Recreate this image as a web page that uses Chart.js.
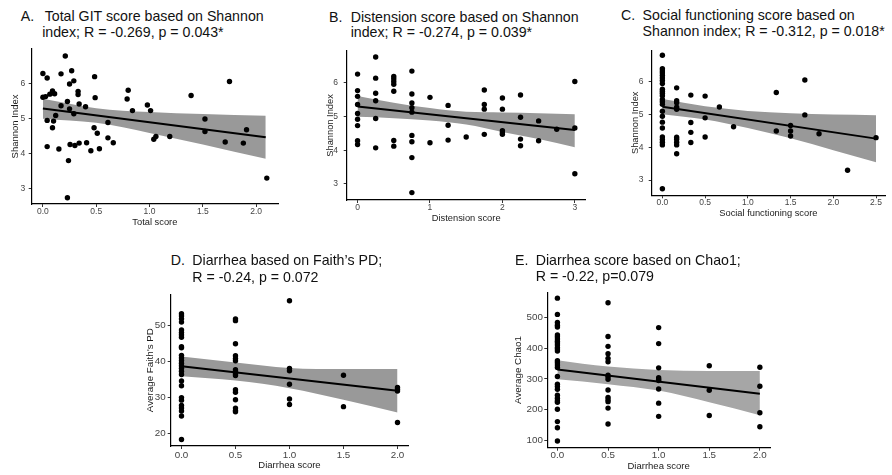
<!DOCTYPE html>
<html><head><meta charset="utf-8">
<script src="https://cdn.jsdelivr.net/npm/chart.js@4.4.1/dist/chart.umd.min.js"></script>
<style>
html,body{margin:0;padding:0;background:#fff;}
#wrap{position:relative;width:892px;height:475px;overflow:hidden;background:#fff;}
canvas{position:absolute;}
.t{position:absolute;font-family:"Liberation Sans",Arial,sans-serif;font-size:14.2px;line-height:16px;color:#111;white-space:nowrap;}
</style></head><body><div id="wrap"></div>
<script>
// ---------- Panel A: Total GIT score vs Shannon index ----------
const aX = [0.00,0.00,0.025,0.04,0.04,0.04,0.065,0.09,0.09,0.11,0.09,0.10,0.12,0.15,0.17,0.17,0.21,0.23,0.24,0.23,0.25,0.25,0.255,0.27,0.29,0.29,0.30,0.33,0.33,0.34,0.34,0.40,0.41,0.45,0.48,0.485,0.49,0.51,0.53,0.61,0.61,0.66,0.80,0.79,0.84,0.98,1.01,1.04,1.06,1.19,1.39,1.52,1.52,1.71,1.75,1.88,1.91,2.10];
const aY = [6.28,5.60,5.62,6.15,4.94,4.19,5.69,5.78,5.73,5.70,4.73,4.92,5.08,4.12,6.27,5.36,6.78,5.48,3.79,2.73,5.98,5.27,4.25,6.36,6.07,5.13,4.22,5.77,5.68,5.41,4.29,5.33,4.30,4.07,4.73,6.19,5.59,4.57,4.13,4.88,4.44,4.30,5.80,5.55,5.22,5.38,5.22,4.40,4.48,4.48,5.65,4.98,4.62,4.32,6.05,4.29,4.67,3.29];
const aFitX = [0, 2.09];
const aFitY = [5.28, 4.46];
const aBandX = [0, 0.5, 1.0, 1.5, 2.09];
const aBandUp = [5.56, 5.29, 5.18, 5.12, 5.07];
const aBandLo = [4.99, 4.87, 4.58, 4.25, 3.84];
const aXTicks = [0, 0.5, 1, 1.5, 2];
const aXLabels = ["0.0","0.5","1.0","1.5","2.0"];
const aYTicks = [3, 4, 5, 6];

// ---------- Panel B: Distension score ----------
const bGroupX = [0, 0.25, 0.5, 0.75, 1, 1.25, 1.5, 1.75, 2, 2.25, 2.5, 2.75, 3];
const bGroupY = [
  [6.26,5.77,5.60,5.36,5.09,4.92,4.73,4.28,4.17],
  [6.77,6.14,5.69,5.47,4.94,4.07],
  [6.19,6.12,6.04,5.96,5.75,4.29,4.12],
  [6.35,5.67,5.40,5.26,5.13,4.44,4.25,3.78,2.74],
  [5.57,4.22],
  [5.33,4.74,4.30],
  [4.39],
  [5.79,5.36,5.22,4.47],
  [5.55,5.22,4.58,4.52,4.47],
  [5.64,4.98,4.33,4.13],
  [4.87,4.28],
  [4.62],
  [6.04,4.66,3.30]
];
const bFitX = [0, 3];
const bFitY = [5.30, 4.60];
const bBandX = [0, 0.5, 1, 1.5, 2, 2.5, 3];
const bBandUp = [5.61, 5.41, 5.25, 5.14, 5.12, 5.10, 5.07];
const bBandLo = [4.99, 4.95, 4.88, 4.76, 4.54, 4.33, 4.09];
const bXTicks = [0, 1, 2, 3];
const bXLabels = ["0","1","2","3"];
const bYTicks = [3, 4, 5, 6];

// ---------- Panel C: Social functioning score ----------
const cGroupX = [0, 0.167, 0.333, 0.5, 0.667, 0.833, 1.333, 1.5, 1.667, 1.833, 2.167, 2.5];
const cGroupY = [
  [6.79,6.38,6.31,6.25,6.18,6.10,6.02,5.93,5.76,5.70,5.64,5.56,5.45,5.38,5.30,5.09,4.94,4.76,4.58,4.31,4.23,4.15,4.07,2.74],
  [5.80,5.41,5.35,5.21,5.15,4.30,4.24,4.15,4.07,3.80],
  [5.58,4.75,4.45,4.14],
  [5.55,4.89,4.31],
  [5.22],
  [4.62],
  [5.66,4.49],
  [4.66,4.49,4.34],
  [6.04,4.98],
  [4.41],
  [3.30],
  [4.29]
];
const cFitX = [0, 2.5];
const cFitY = [5.23, 4.26];
const cBandX = [0, 0.5, 1, 1.5, 2, 2.5];
const cBandUp = [5.46, 5.24, 5.10, 5.03, 4.99, 4.97];
const cBandLo = [5.00, 4.84, 4.58, 4.27, 3.91, 3.54];
const cXTicks = [0, 0.5, 1, 1.5, 2, 2.5];
const cXLabels = ["0.0","0.5","1.0","1.5","2.0","2.5"];
const cYTicks = [3, 4, 5, 6];

// ---------- Panel D: Diarrhea vs Faith's PD ----------
const dGroupX = [0, 0.5, 1, 1.5, 2];
const dGroupY = [
  [53.2,52.6,51.8,50.9,48.7,48.0,47.4,46.7,44.1,43.8,41.7,41.0,40.3,39.5,38.8,38.1,37.3,36.4,34.6,33.3,30.0,29.3,27.8,27.1,26.3,24.9,18.4],
  [51.8,51.3,44.9,41.6,40.8,40.2,37.7,37.2,36.6,36.1,32.2,31.5,29.4,27.1,26.4,26.1],
  [56.8,38.1,37.4,33.7,29.6,28.1],
  [36.2,27.5],
  [32.8,32.3,31.8,23.1]
];
const dFitX = [0, 2];
const dFitY = [38.7, 31.9];
const dBandX = [0, 0.5, 1, 1.5, 2];
const dBandUp = [41.4, 39.7, 38.2, 37.9, 37.9];
const dBandLo = [35.9, 34.7, 32.6, 29.4, 25.9];
const dXTicks = [0, 0.5, 1, 1.5, 2];
const dXLabels = ["0.0","0.5","1.0","1.5","2.0"];
const dYTicks = [20, 30, 40, 50];

// ---------- Panel E: Diarrhea vs Chao1 ----------
const eGroupX = [0, 0.5, 1, 1.5, 2];
const eGroupY = [
  [563,510,484,475,469,443,437,430,423,417,410,402,397,391,359,353,345,337,308,283,275,266,247,237,229,224,201,161,141,98],
  [548,438,406,382,367,356,312,307,299,264,240,232,226,205,153],
  [467,415,336,304,298,295,267,221,178],
  [343,263,181],
  [338,276,190,144]
];
const eFitX = [0, 2];
const eFitY = [331, 252];
const eBandX = [0, 0.5, 1, 1.5, 2];
const eBandUp = [361, 340, 329, 326, 326];
const eBandLo = [299, 283, 262, 224, 182];
const eXTicks = [0, 0.5, 1, 1.5, 2];
const eXLabels = ["0.0","0.5","1.0","1.5","2.0"];
const eYTicks = [100, 200, 300, 400, 500];

// ---------- helpers ----------
const FONT = '"Liberation Sans", Arial, Helvetica, sans-serif';
const wrap = document.getElementById('wrap');
const zip = (xs, ys) => xs.map((x, i) => ({x, y: ys[i]}));
const groups = (gx, gy) => gx.flatMap((x, i) => gy[i].map(y => ({x, y})));

function panel(p) {
  const c = document.createElement('canvas');
  c.width = p.w; c.height = p.h;
  c.style.left = p.left + 'px'; c.style.top = p.top + 'px';
  c.style.width = p.w + 'px'; c.style.height = p.h + 'px';
  wrap.appendChild(c);
  new Chart(c, {
    type: 'scatter',
    data: {
      datasets: [
        {type: 'scatter', data: p.points, pointRadius: 2.7, pointBackgroundColor: '#000', pointBorderWidth: 0, order: 1},
        {type: 'line', data: p.fit, showLine: true, borderColor: '#000', borderWidth: 2, pointRadius: 0, fill: false, order: 2},
        {type: 'line', data: p.up, showLine: true, borderColor: 'rgba(0,0,0,0)', borderWidth: 0, pointRadius: 0, fill: false, cubicInterpolationMode: 'monotone', order: 3},
        {type: 'line', data: p.lo, showLine: true, borderColor: 'rgba(0,0,0,0)', borderWidth: 0, pointRadius: 0, fill: '-1', backgroundColor: p.band, cubicInterpolationMode: 'monotone', order: 3}
      ]
    },
    options: {
      responsive: false, animation: false, devicePixelRatio: 1, events: [],
      layout: {padding: {left: 0, top: p.padTop, right: p.padRight, bottom: 0}},
      plugins: {legend: {display: false}, tooltip: {enabled: false}, title: {display: false}},
      scales: {
        x: {
          type: 'linear', min: p.xmin, max: p.xmax,
          afterBuildTicks: s => { s.ticks = p.xTicks.map(v => ({value: v})); },
          afterFit: s => { s.height = p.xH; },
          ticks: {callback: (v, i) => p.xLabels[i], font: {size: p.tick, family: FONT}, color: '#444', padding: p.xTickPad, autoSkip: false, maxRotation: 0, minRotation: 0},
          grid: {display: true, drawOnChartArea: false, drawTicks: true, tickLength: 3, color: '#333', lineWidth: 1},
          border: {display: true, color: '#000', width: 1.2},
          title: {display: true, text: p.xTitle, font: {size: p.xTitleSize, family: FONT}, color: '#1a1a1a', padding: {top: 0, bottom: p.xTitlePad}}
        },
        y: {
          type: 'linear', min: p.ymin, max: p.ymax,
          afterBuildTicks: s => { s.ticks = p.yTicks.map(v => ({value: v})); },
          afterFit: s => { s.width = p.yW; },
          ticks: {callback: v => String(v), font: {size: p.tick, family: FONT}, color: '#444', padding: p.yTickPad, autoSkip: false},
          grid: {display: true, drawOnChartArea: false, drawTicks: true, tickLength: 3, color: '#333', lineWidth: 1},
          border: {display: true, color: '#000', width: 1.2},
          title: {display: true, text: p.yTitle, font: {size: p.yTitleSize, family: FONT}, color: '#1a1a1a', padding: {top: p.yTitlePad, bottom: 0}}
        }
      }
    }
  });
}

function title(x, baseline, text) {
  const d = document.createElement('div');
  d.className = 't';
  d.textContent = text;
  d.style.left = x + 'px';
  d.style.top = (baseline - 12.9) + 'px';
  wrap.appendChild(d);
}

// ---------- panels ----------
panel({left: 0, top: 40, w: 290, h: 195, padTop: 9, padRight: 12, yW: 31.7, xH: 31,
  xmin: -0.105, xmax: 2.205, ymin: 2.55, ymax: 6.98,
  points: zip(aX, aY), fit: zip(aFitX, aFitY), up: zip(aBandX, aBandUp), lo: zip(aBandX, aBandLo), band: '#999999',
  xTicks: aXTicks, xLabels: aXLabels, yTicks: aYTicks, tick: 8.5, xTickPad: -0.8, yTickPad: 3.5,
  xTitle: 'Total score', xTitleSize: 9.3, xTitlePad: 7.1, yTitle: 'Shannon Index', yTitleSize: 9.5, yTitlePad: 9.3});

panel({left: 300, top: 40, w: 295, h: 195, padTop: 9.3, padRight: 9.3, yW: 46.7, xH: 35,
  xmin: -0.15, xmax: 3.15, ymin: 2.52, ymax: 6.95,
  points: groups(bGroupX, bGroupY), fit: zip(bFitX, bFitY), up: zip(bBandX, bBandUp), lo: zip(bBandX, bBandLo), band: '#999999',
  xTicks: bXTicks, xLabels: bXLabels, yTicks: bYTicks, tick: 8.5, xTickPad: -0.8, yTickPad: 5.8,
  xTitle: 'Distension score', xTitleSize: 9.3, xTitlePad: 11.1, yTitle: 'Shannon Index', yTitleSize: 9.3, yTitlePad: 24.4});

panel({left: 600, top: 40, w: 292, h: 195, padTop: 7.7, padRight: 7, yW: 51.7, xH: 39.7,
  xmin: -0.125, xmax: 2.605, ymin: 2.54, ymax: 6.94,
  points: groups(cGroupX, cGroupY), fit: zip(cFitX, cFitY), up: zip(cBandX, cBandUp), lo: zip(cBandX, cBandLo), band: '#999999',
  xTicks: cXTicks, xLabels: cXLabels, yTicks: cYTicks, tick: 8.5, xTickPad: -1.1, yTickPad: 5.2,
  xTitle: 'Social functioning score', xTitleSize: 9.3, xTitlePad: 16.1, yTitle: 'Shannon Index', yTitleSize: 9.3, yTitlePad: 30.1});

panel({left: 130, top: 285, w: 290, h: 190, padTop: 9.3, padRight: 11.7, yW: 40.7, xH: 29,
  xmin: -0.1, xmax: 2.1, ymin: 16.6, ymax: 58.6,
  points: groups(dGroupX, dGroupY), fit: zip(dFitX, dFitY), up: zip(dBandX, dBandUp), lo: zip(dBandX, dBandLo), band: '#999999',
  xTicks: dXTicks, xLabels: dXLabels, yTicks: dYTicks, tick: 9.8, xTickPad: 0.1, yTickPad: 2,
  xTitle: 'Diarrhea score', xTitleSize: 9.5, xTitlePad: 4.3, yTitle: 'Average Faith\u2019s PD', yTitleSize: 9.8, yTitlePad: 14.1});

panel({left: 500, top: 283, w: 282, h: 192, padTop: 9.3, padRight: 12, yW: 47.3, xH: 27.3,
  xmin: -0.1, xmax: 2.1, ymin: 76, ymax: 582,
  points: groups(eGroupX, eGroupY), fit: zip(eFitX, eFitY), up: zip(eBandX, eBandUp), lo: zip(eBandX, eBandLo), band: '#a6a6a6',
  xTicks: eXTicks, xLabels: eXLabels, yTicks: eYTicks, tick: 9.8, xTickPad: -0.9, yTickPad: 1.4,
  xTitle: 'Diarrhea score', xTitleSize: 9.5, xTitlePad: 3.3, yTitle: 'Average Chao1', yTitleSize: 9.8, yTitlePad: 12.4});

// ---------- titles ----------
title(20.7, 21.3, 'A.'); title(44.7, 21.3, 'Total GIT score based on Shannon'); title(42.2, 37, 'index; R = -0.269, p = 0.043*');
title(329, 21.7, 'B.'); title(350.7, 21.7, 'Distension score based on Shannon'); title(350.7, 37.3, 'index; R = -0.274, p = 0.039*');
title(621, 20, 'C.'); title(642.6, 20, 'Social functioning score based on'); title(642.6, 36, 'Shannon index; R = -0.312, p = 0.018*');
title(170.7, 265, 'D.'); title(192.3, 265, 'Diarrhea based on Faith\u2019s PD;'); title(192.3, 281.5, 'R = -0.24, p = 0.072');
title(515, 264.5, 'E.'); title(535.7, 264.5, 'Diarrhea score based on Chao1;'); title(535.7, 281, 'R = -0.22, p=0.079');
</script></body></html>
